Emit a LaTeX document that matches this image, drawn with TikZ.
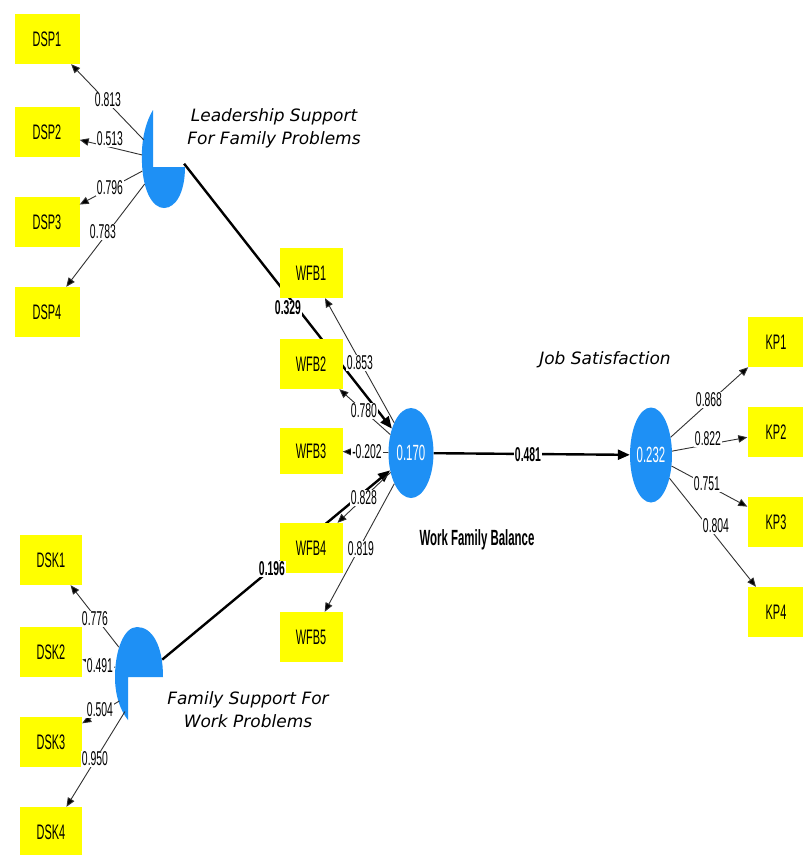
\documentclass[tikz,border=0pt]{standalone}
\usepackage{fontspec}
\setmainfont{Liberation Sans}
\newfontfamily\narrowfont[FakeStretch=0.52]{Liberation Sans}
\newfontfamily\itlfont{DejaVu Sans}
\usetikzlibrary{arrows.meta,shapes.geometric}
\definecolor{boxyellow}{RGB}{255,255,0}
\definecolor{lvblue}{RGB}{30,144,245}
\definecolor{loadgray}{RGB}{50,50,50}
\pgfdeclarelayer{bg}
\pgfsetlayers{bg,main}
\begin{document}
\begin{tikzpicture}[x=1pt,y=-1pt,
 ind/.style={fill=boxyellow, minimum width=65pt, minimum height=50pt, inner sep=0pt, font=\narrowfont\fontsize{21}{21}\selectfont},
 lv/.style={ellipse, fill=lvblue, inner sep=0pt, text=white, font=\narrowfont\fontsize{22}{22}\selectfont},
 hiddenlv/.style={ellipse, inner sep=0pt},
 load/.style={draw=loadgray, line width=0.9pt, -{Triangle[length=9pt,width=7.5pt,fill=black]}},
 struct/.style={draw=black, line width=2.4pt, -{Triangle[length=12pt,width=10pt]}},
 coef/.style={fill=white, inner sep=0.8pt, font=\narrowfont\fontsize{20}{20}\selectfont},
 scoef/.style={fill=white, inner sep=0.8pt, font=\narrowfont\bfseries\fontsize{20}{20}\selectfont},
 lvname/.style={font=\itlfont\itshape\fontsize{17}{23}\selectfont, align=center}
]
\useasboundingbox (0,0) rectangle (803,855);
\begin{pgfonlayer}{bg}
\fill[white] (0,0) rectangle (803,855);
\end{pgfonlayer}

% indicators
\node[ind] (DSP1) at (47,39) {DSP1};
\node[ind] (DSP2) at (47,132) {DSP2};
\node[ind] (DSP3) at (47,222) {DSP3};
\node[ind] (DSP4) at (47,312) {DSP4};

\node[ind, minimum width=62pt] (DSK1) at (51,560) {DSK1};
\node[ind, minimum width=62pt] (DSK2) at (51,652) {DSK2};
\node[ind, minimum width=62pt] (DSK3) at (51,742) {DSK3};
\node[ind, minimum width=62pt] (DSK4) at (51,832) {DSK4};

\node[ind, minimum width=63pt] (WFB1) at (311,273) {WFB1};
\node[ind, minimum width=63pt] (WFB2) at (311,364) {WFB2};
\node[ind, minimum width=63pt, minimum height=46pt] (WFB3) at (311,451) {WFB3};
\node[ind, minimum width=63pt] (WFB4) at (311,548) {WFB4};
\node[ind, minimum width=63pt] (WFB5) at (311,637) {WFB5};

\node[ind, minimum width=57pt] (KP1) at (776,342) {KP1};
\node[ind, minimum width=57pt] (KP2) at (776,432) {KP2};
\node[ind, minimum width=57pt] (KP3) at (776,522) {KP3};
\node[ind, minimum width=57pt] (KP4) at (776,612) {KP4};

% latent variables
\node[lv, minimum width=45pt, minimum height=90pt] (wfb) at (411,453) {0.170};
\node[lv, minimum width=42pt, minimum height=95pt] (js) at (651,455) {0.232};
\node[hiddenlv, minimum width=42pt, minimum height=96pt] (ls) at (163,160) {};
\node[hiddenlv, minimum width=48pt, minimum height=94pt] (fs) at (139,673) {};

\fill[lvblue] (153,110) .. controls (144,125) and (141,145) .. (142,163)
  .. controls (143,192) and (153,208) .. (164,208)
  .. controls (176,208) and (185,192) .. (185,167) -- (153,167) -- cycle;
\fill[lvblue] (137,627) .. controls (152,627) and (163,645) .. (163,677)
  -- (128,677) -- (128,720)
  .. controls (120,710) and (115,695) .. (115,677)
  .. controls (115,650) and (124,627) .. (137,627) -- cycle;

% structural paths
\begin{pgfonlayer}{bg}
\draw[struct] (ls.-10) -- (wfb);
\draw[struct] (fs.30) -- (wfb);
\draw[struct] (wfb) -- (js);
\end{pgfonlayer}

% loadings
\draw[load] (ls) -- (DSP1);
\draw[load] (ls) -- (DSP2);
\draw[load] (ls) -- (DSP3);
\draw[load] (ls) -- (DSP4);
\draw[load] (fs) -- (DSK1);
\draw[load] (fs) -- (DSK2);
\draw[load] (fs.235) -- (DSK3);
\draw[load] (fs.250) -- (DSK4);
\draw[load] (wfb) -- (WFB1);
\draw[load] (wfb) -- (WFB2);
\draw[load] (wfb) -- (WFB3);
\draw[load] (wfb) -- (WFB4);
\draw[load] (wfb) -- (WFB5);
\draw[load] (js) -- (KP1);
\draw[load] (js) -- (KP2);
\draw[load] (js) -- (KP3);
\draw[load] (js) -- (KP4);

% coefficients
\node[coef] (l1) at (108,100) {0.813};
\node[coef] (l2) at (110,139) {0.513};
\node[coef] (l3) at (110,188) {0.796};
\node[coef] (l4) at (103,232) {0.783};
\node[coef] (k1) at (95,619) {0.776};
\node[coef] (k2) at (100,666) {0.491};
\node[coef] (k3) at (100,710) {0.504};
\node[coef] (k4) at (95,759) {0.950};
\node[coef] (w1) at (360,363) {0.853};
\node[coef] (w2) at (364,411) {0.780};
\node[coef] (w3) at (367,452) {-0.202};
\node[coef] (w4) at (364,498) {0.828};
\node[coef] (w5) at (361,549) {0.819};
\node[coef] (p1) at (709,400) {0.868};
\node[coef] (p2) at (708,439) {0.822};
\node[coef] (p3) at (707,484) {0.751};
\node[coef] (p4) at (716,526) {0.804};
\node[scoef] (s1) at (288,308) {0.329};
\node[scoef] (s2) at (272,569) {0.196};
\node[scoef] (s3) at (528,455) {0.481};

% construct names
\node[lvname] (nls) at (274,128) {Leadership Support\\For Family Problems};
\node[lvname] (nfs) at (248,710) {Family Support For\\Work Problems};
\node[lvname] (njs) at (605,360) {Job Satisfaction};
\node[font=\narrowfont\bfseries\fontsize{22}{22}\selectfont] (nwfb) at (477,540) {Work Family Balance};
\end{tikzpicture}
\end{document}
